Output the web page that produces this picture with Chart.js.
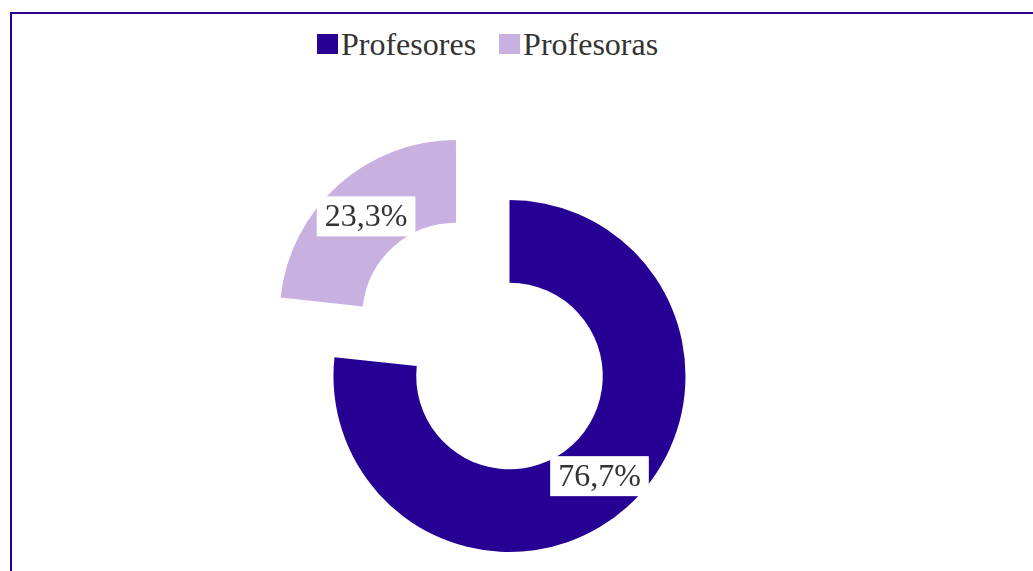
<!DOCTYPE html>
<html>
<head>
<meta charset="utf-8">
<script src="https://cdn.jsdelivr.net/npm/chart.js@4.4.1/dist/chart.umd.min.js"></script>
<style>
  html, body { margin: 0; padding: 0; background: #fff; overflow: hidden; }
  #frame {
    position: absolute; left: 10px; top: 12px;
    width: 1100px; height: 760px;
    border: 2px solid #270094;
  }
  #chartLegend {
    position: absolute; left: 317px; top: 28px;
    display: flex; align-items: center;
    font-family: 'Liberation Serif', 'Times New Roman', serif;
    font-size: 32px; line-height: 32px; color: #333;
  }
  #chartLegend .item { display: flex; align-items: center; margin-right: 23px; }
  #chartLegend .box { width: 21px; height: 20px; margin-right: 3px; }
  #genderChart { position: absolute; left: 12px; top: 14px; }
</style>
</head>
<body>
<div id="frame"></div>
<div id="chartLegend"></div>
<canvas id="genderChart" width="1021" height="698"></canvas>
<script>
const categories = ['Profesores', 'Profesoras'];
const shares = [76.7, 23.3];
const sliceColors = ['#270094', '#c8b1e0'];

const labelFont = '32px "Liberation Serif", "Times New Roman", serif';

function fmtShare(v) {
  return v.toFixed(1).replace('.', ',') + '%';
}

// percent labels with a white box, placed in the middle of each (offset) slice
const sliceLabels = {
  id: 'sliceLabels',
  afterDatasetsDraw(chart) {
    const c = chart.ctx;
    const meta = chart.getDatasetMeta(0);
    c.save();
    c.font = labelFont;
    c.textAlign = 'center';
    c.textBaseline = 'middle';
    meta.data.forEach((arc, i) => {
      const p = arc.getProps(['x', 'y', 'startAngle', 'endAngle', 'innerRadius', 'outerRadius']);
      const mid = (p.startAngle + p.endAngle) / 2;
      // arc elements draw their offset at a quarter of the option value
      const r = (arc.options.offset || 0) / 4 + (p.innerRadius + p.outerRadius) / 2;
      const x = p.x + Math.cos(mid) * r;
      const y = p.y + Math.sin(mid) * r;
      const text = fmtShare(shares[i]);
      const w = c.measureText(text).width + 16;
      c.fillStyle = '#ffffff';
      c.fillRect(x - w / 2, y - 20, w, 40);
      c.fillStyle = '#333333';
      c.fillText(text, x, y + 1);
    });
    c.restore();
  }
};

const chart = new Chart(document.getElementById('genderChart'), {
  type: 'doughnut',
  data: {
    labels: categories,
    datasets: [{
      data: shares,
      backgroundColor: sliceColors,
      borderWidth: 0,
      offset: [0, 320],
      hoverOffset: 0
    }]
  },
  options: {
    responsive: false,
    animation: false,
    cutout: '53%',
    layout: { padding: { top: 26, right: 26 } },
    plugins: {
      legend: { display: false },
      tooltip: { enabled: false }
    }
  },
  plugins: [sliceLabels]
});

// html legend
const legendEl = document.getElementById('chartLegend');
categories.forEach((name, i) => {
  const item = document.createElement('div');
  item.className = 'item';
  const box = document.createElement('span');
  box.className = 'box';
  box.style.background = sliceColors[i];
  const txt = document.createElement('span');
  txt.textContent = name;
  item.appendChild(box);
  item.appendChild(txt);
  legendEl.appendChild(item);
});
</script>
</body>
</html>
